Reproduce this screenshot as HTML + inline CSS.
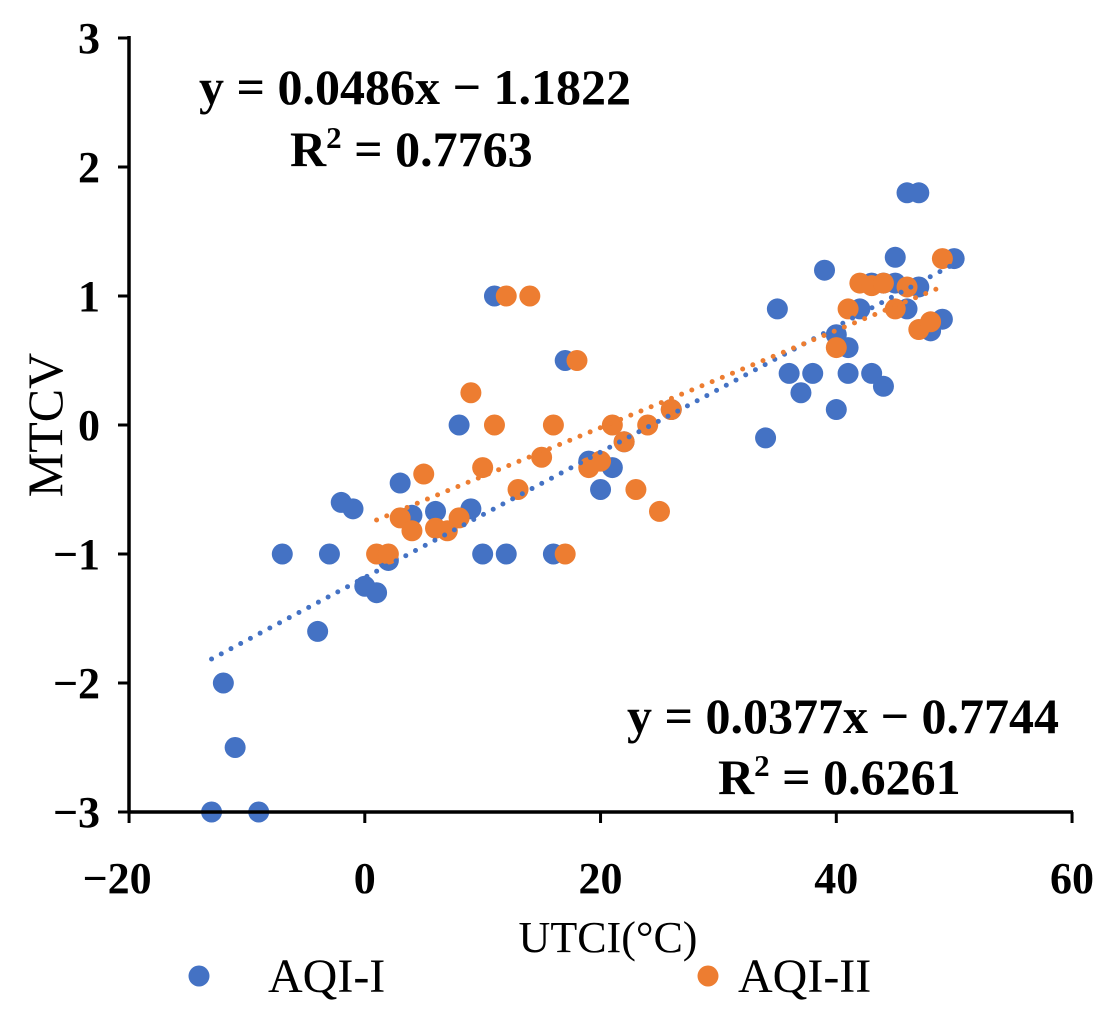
<!DOCTYPE html>
<html><head><meta charset="utf-8"><style>
body{margin:0;background:#fff;width:1119px;height:1024px;overflow:hidden}
svg text{font-family:"Liberation Serif",serif}
</style></head><body>
<svg id="chart" width="1119" height="1024" xmlns="http://www.w3.org/2000/svg"></svg>
<script>
const xTicks=[-20,0,20,40,60];
const yTicks=[3,2,1,0,-1,-2,-3];
const blueX=[-13,-9,-11,-12,-4,-7,-3,-2,-1,0,1,2,3,4,6,8,9,10,12,11,16,17,19,20,21,22,26,34,35,36,37,38,39,40,40,41,41,42,43,44,43,44,45,45,46,47,46,47,48,49,50];
const blueY=[-3,-3,-2.5,-2,-1.6,-1,-1,-0.6,-0.65,-1.25,-1.3,-1.05,-0.45,-0.7,-0.67,0,-0.65,-1,-1,1,-1,0.5,-0.28,-0.5,-0.33,-0.13,0.12,-0.1,0.9,0.4,0.25,0.4,1.2,0.12,0.7,0.6,0.4,0.9,0.4,0.3,1.1,1.1,1.3,1.1,1.8,1.8,0.9,1.07,0.73,0.82,1.29];
const orangeX=[1,2,3,4,5,6,7,8,9,10,11,12,13,14,15,16,17,18,19,20,21,22,23,24,25,26,40,41,42,43,44,45,46,47,48,49];
const orangeY=[-1,-1,-0.72,-0.82,-0.38,-0.8,-0.82,-0.72,0.25,-0.33,0,1,-0.5,1,-0.25,0,-1,0.5,-0.33,-0.28,0,-0.13,-0.5,0,-0.67,0.12,0.6,0.9,1.1,1.08,1.1,0.9,1.07,0.74,0.8,1.29];
const blueFit=[0.0486,-1.1822], orangeFit=[0.0377,-0.7744];
const blueRange=[-13,50], orangeRange=[1,49];

const NS="http://www.w3.org/2000/svg", svg=document.getElementById('chart');
const X=v=>364.8+(v)*11.7875, Y=v=>425-v*129;
function mk(t,a,txt){const e=document.createElementNS(NS,t);for(const k in a)e.setAttribute(k,a[k]);if(txt!==undefined)e.textContent=txt;svg.appendChild(e);return e;}

blueX.forEach((x,i)=>{const c=mk('circle',{cx:X(x),cy:Y(blueY[i]),r:10.5,fill:'#4472C4'});

});
orangeX.forEach((x,i)=>{const c=mk('circle',{cx:X(x),cy:Y(orangeY[i]),r:10.5,fill:'#ED7D31'});

});
let l=mk('line',{x1:X(blueRange[0]),y1:Y(blueFit[0]*blueRange[0]+blueFit[1]),x2:X(blueRange[1]),y2:Y(blueFit[0]*blueRange[1]+blueFit[1]),stroke:'#4472C4','stroke-width':5,'stroke-dasharray':'0 11','stroke-linecap':'round'});


l=mk('line',{x1:X(orangeRange[0]),y1:Y(orangeFit[0]*orangeRange[0]+orangeFit[1]),x2:X(orangeRange[1]),y2:Y(orangeFit[0]*orangeRange[1]+orangeFit[1]),stroke:'#ED7D31','stroke-width':5,'stroke-dasharray':'0 11','stroke-linecap':'round'});



l=mk('line',{x1:129,y1:36,x2:129,y2:813,stroke:'#000','stroke-width':3.5});


l=mk('line',{x1:127.5,y1:812,x2:1073,y2:812,stroke:'#000','stroke-width':3.5});


yTicks.forEach(v=>{mk('line',{x1:118,y1:Y(v),x2:129,y2:Y(v),stroke:'#000','stroke-width':3});
const t=mk('text',{x:100,y:Y(v)+15,'text-anchor':'end','font-size':44,'font-weight':'bold'},v<0?'\u2212'+(-v):String(v));

});
xTicks.forEach(v=>{mk('line',{x1:X(v),y1:812,x2:X(v),y2:823,stroke:'#000','stroke-width':3});
const t=mk('text',{x:X(v)-(v<0?12:0),y:893,'text-anchor':'middle','font-size':44,'font-weight':'bold'},v<0?'\u2212'+(-v):String(v));

});
</script>
<svg style="position:absolute;left:0;top:0" width="1119" height="1024" xmlns="http://www.w3.org/2000/svg" font-family="Liberation Serif, serif">
<text x="608" y="952" text-anchor="middle" font-size="44">UTCI(°C)</text>
<text transform="translate(62,425) rotate(-90)" text-anchor="middle" font-size="50">MTCV</text>
<text x="199" y="104" font-size="50" font-weight="bold">y = 0.0486x − 1.1822</text>
<text x="290" y="166" font-size="50" font-weight="bold">R<tspan font-size="31" dy="-18">2</tspan><tspan dy="18"> = 0.7763</tspan></text>
<text x="627" y="733" font-size="50" font-weight="bold">y = 0.0377x − 0.7744</text>
<text x="718" y="794" font-size="50" font-weight="bold">R<tspan font-size="31" dy="-18">2</tspan><tspan dy="18"> = 0.6261</tspan></text>
<g>
<circle cx="199" cy="976" r="10.5" fill="#4472C4"/>
<text x="268" y="992" font-size="48">AQI-I</text>
<circle cx="708" cy="976" r="10.5" fill="#ED7D31"/>
<text x="738" y="992" font-size="48">AQI-II</text>
</g>
</svg>
</body></html>
